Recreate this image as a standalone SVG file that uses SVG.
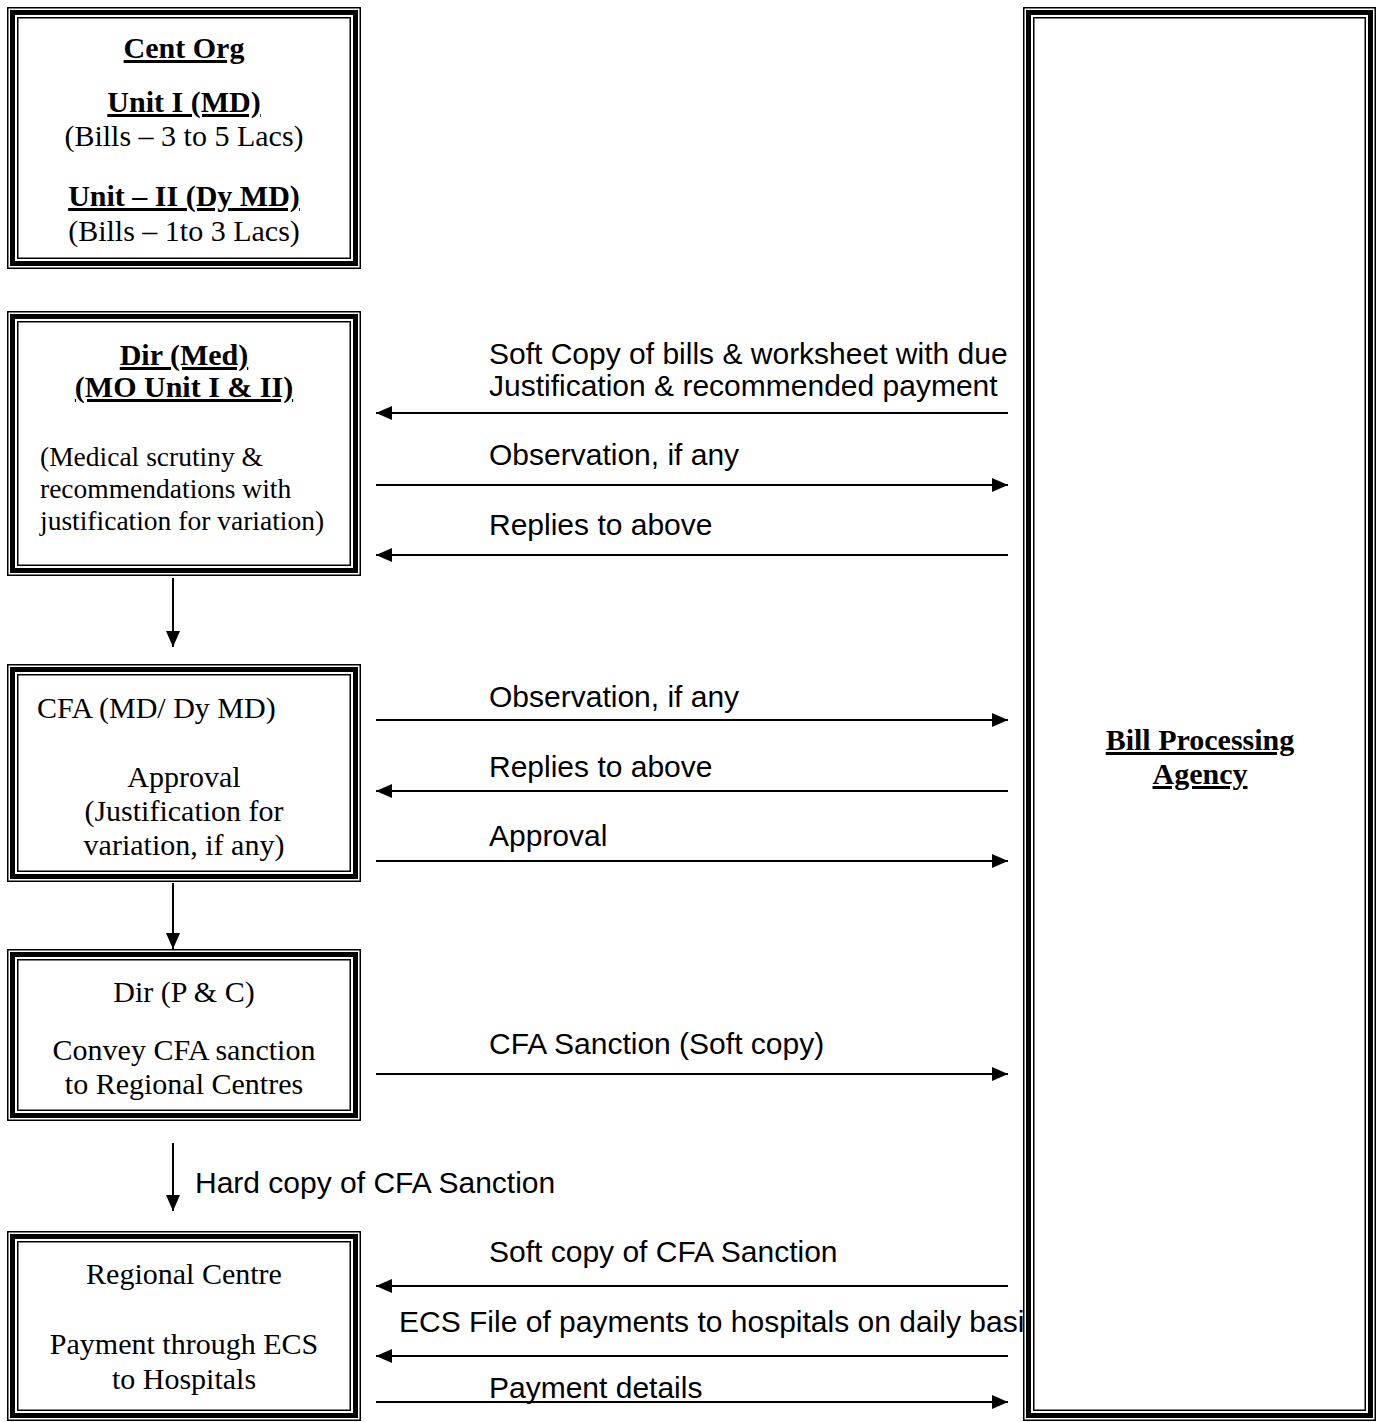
<svg xmlns="http://www.w3.org/2000/svg" width="1384" height="1422" viewBox="0 0 1384 1422">
<style>
.bg{fill:#fff;stroke:none}
.o{fill:none;stroke:#000;stroke-width:1.5}
.t{fill:none;stroke:#000;stroke-width:5}
.i{fill:none;stroke:#000;stroke-width:1.5}
.tr{font-family:"Liberation Serif","Times New Roman",serif;font-size:30px;fill:#000}
.tb{font-family:"Liberation Serif","Times New Roman",serif;font-size:30px;font-weight:bold;text-decoration:underline;fill:#000}
.ts{font-family:"Liberation Serif","Times New Roman",serif;font-size:27.5px;fill:#000}
.lab{font-family:"Liberation Sans",Arial,sans-serif;font-size:30px;fill:#000}
.ln{stroke:#000;stroke-width:2;fill:none}
.c{text-anchor:middle}
</style>
<defs>
<marker id="ah" markerWidth="16" markerHeight="14" refX="16" refY="7" orient="auto" markerUnits="userSpaceOnUse" viewBox="0 0 16 14">
<path d="M0,0 L16,7 L0,14 Z" fill="#000"/>
</marker>
</defs>
<rect width="1384" height="1422" fill="#fff"/>
<g id="connectors">
<line class="ln" x1="1008" y1="413" x2="376" y2="413" marker-end="url(#ah)"/>
<line class="ln" x1="376" y1="485" x2="1008" y2="485" marker-end="url(#ah)"/>
<line class="ln" x1="1008" y1="555" x2="376" y2="555" marker-end="url(#ah)"/>
<line class="ln" x1="376" y1="720" x2="1008" y2="720" marker-end="url(#ah)"/>
<line class="ln" x1="1008" y1="791" x2="376" y2="791" marker-end="url(#ah)"/>
<line class="ln" x1="376" y1="861" x2="1008" y2="861" marker-end="url(#ah)"/>
<line class="ln" x1="376" y1="1074" x2="1008" y2="1074" marker-end="url(#ah)"/>
<line class="ln" x1="1008" y1="1286" x2="376" y2="1286" marker-end="url(#ah)"/>
<line class="ln" x1="1008" y1="1356" x2="376" y2="1356" marker-end="url(#ah)"/>
<line class="ln" x1="376" y1="1402" x2="1008" y2="1402" marker-end="url(#ah)"/>
<line class="ln" x1="173" y1="578" x2="173" y2="647" marker-end="url(#ah)"/>
<line class="ln" x1="173" y1="883" x2="173" y2="949" marker-end="url(#ah)"/>
<line class="ln" x1="173" y1="1143" x2="173" y2="1211" marker-end="url(#ah)"/>
<text class="lab" x="489" y="364">Soft Copy of bills &amp; worksheet with due</text>
<text class="lab" x="489" y="396">Justification &amp; recommended payment</text>
<text class="lab" x="489" y="465">Observation, if any</text>
<text class="lab" x="489" y="535">Replies to above</text>
<text class="lab" x="489" y="707">Observation, if any</text>
<text class="lab" x="489" y="777">Replies to above</text>
<text class="lab" x="489" y="846">Approval</text>
<text class="lab" x="489" y="1054">CFA Sanction (Soft copy)</text>
<text class="lab" x="195" y="1193">Hard copy of CFA Sanction</text>
<text class="lab" x="489" y="1262">Soft copy of CFA Sanction</text>
<text class="lab" x="399" y="1332">ECS File of payments to hospitals on daily basis</text>
<text class="lab" x="489" y="1398">Payment details</text>
</g>
<g id="cent-org">
<rect class="bg" x="7" y="7" width="354" height="262"/>
<rect class="o" x="7.75" y="7.75" width="352.5" height="260.5"/>
<rect class="t" x="12.5" y="12.5" width="343" height="251"/>
<rect class="i" x="17.75" y="17.75" width="332.5" height="240.5"/>
<text class="tb c" x="184" y="58">Cent Org</text>
<text class="tb c" x="184" y="112">Unit I (MD)</text>
<text class="tr c" x="184" y="146">(Bills – 3 to 5 Lacs)</text>
<text class="tb c" x="184" y="206">Unit – II (Dy MD)</text>
<text class="tr c" x="184" y="241">(Bills – 1to 3 Lacs)</text>
</g>
<g id="dir-med">
<rect class="bg" x="7" y="311" width="354" height="265"/>
<rect class="o" x="7.75" y="311.75" width="352.5" height="263.5"/>
<rect class="t" x="12.5" y="316.5" width="343" height="254"/>
<rect class="i" x="17.75" y="321.75" width="332.5" height="243.5"/>
<text class="tb c" x="184" y="365">Dir (Med)</text>
<text class="tb c" x="184" y="397">(MO Unit I &amp; II)</text>
<text class="ts" x="40" y="466">(Medical scrutiny &amp;</text>
<text class="ts" x="40" y="498">recommendations with</text>
<text class="ts" x="40" y="530">justification for variation)</text>
</g>
<g id="cfa">
<rect class="bg" x="7" y="664" width="354" height="218"/>
<rect class="o" x="7.75" y="664.75" width="352.5" height="216.5"/>
<rect class="t" x="12.5" y="669.5" width="343" height="207"/>
<rect class="i" x="17.75" y="674.75" width="332.5" height="196.5"/>
<text class="tr" x="37" y="718">CFA (MD/ Dy MD)</text>
<text class="tr c" x="184" y="787">Approval</text>
<text class="tr c" x="184" y="821">(Justification for</text>
<text class="tr c" x="184" y="855">variation, if any)</text>
</g>
<g id="dir-pc">
<rect class="bg" x="7" y="949" width="354" height="172"/>
<rect class="o" x="7.75" y="949.75" width="352.5" height="170.5"/>
<rect class="t" x="12.5" y="954.5" width="343" height="161"/>
<rect class="i" x="17.75" y="959.75" width="332.5" height="150.5"/>
<text class="tr c" x="184" y="1002">Dir (P &amp; C)</text>
<text class="tr c" x="184" y="1060">Convey CFA sanction</text>
<text class="tr c" x="184" y="1094">to Regional Centres</text>
</g>
<g id="regional-centre">
<rect class="bg" x="7" y="1231" width="354" height="190"/>
<rect class="o" x="7.75" y="1231.75" width="352.5" height="188.5"/>
<rect class="t" x="12.5" y="1236.5" width="343" height="179"/>
<rect class="i" x="17.75" y="1241.75" width="332.5" height="168.5"/>
<text class="tr c" x="184" y="1284">Regional Centre</text>
<text class="tr c" x="184" y="1354">Payment through ECS</text>
<text class="tr c" x="184" y="1389">to Hospitals</text>
</g>
<g id="bill-processing-agency">
<rect class="bg" x="1023" y="7" width="353" height="1414"/>
<rect class="o" x="1023.75" y="7.75" width="351.5" height="1412.5"/>
<rect class="t" x="1028.5" y="12.5" width="342" height="1403"/>
<rect class="i" x="1033.75" y="17.75" width="331.5" height="1392.5"/>
<text class="tb c" x="1200" y="750">Bill Processing</text>
<text class="tb c" x="1200" y="784">Agency</text>
</g>
</svg>
